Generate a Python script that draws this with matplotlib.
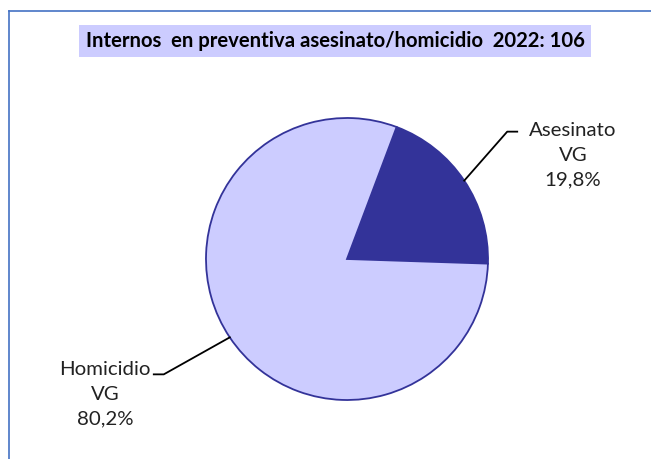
import numpy as np
import matplotlib
matplotlib.use("Agg")
import matplotlib.pyplot as plt

# chart data
labels = ["Asesinato\nVG", "Homicidio\nVG"]
shares = [19.8, 80.2]
title = "Internos  en preventiva asesinato/homicidio  2022: 106"
colors = ["#333399", "#CCCCFF"]

W, H = 651, 459
plt.rcParams["font.family"] = ["Lato", "DejaVu Sans"]

fig = plt.figure(figsize=(W / 100, H / 100), dpi=100)
ax = fig.add_axes([0, 0, 1, 1])

# pie in pixel-like data coordinates
center = (347, H - 259)
radius = 141
wedges, _ = ax.pie(shares, colors=colors, startangle=69.4, counterclock=False,
                   center=center, radius=radius, frame=True,
                   wedgeprops=dict(edgecolor="#333399", linewidth=1.3))
ax.set_xlim(0, W)
ax.set_ylim(0, H)
ax.set_aspect("equal")
ax.axis("off")

# outer frame (only top and left visible in the crop)
ax.plot([9, W + 5], [H - 11, H - 11], color="#4472C4", lw=1.2, clip_on=False)
ax.plot([9, 9], [-5, H - 11], color="#4472C4", lw=1.2, clip_on=False)

# labels with leader lines
for i, w in enumerate(wedges):
    mid = np.deg2rad((w.theta1 + w.theta2) / 2)
    x0 = center[0] + radius * np.cos(mid)
    y0 = center[1] + radius * np.sin(mid)
    right = np.cos(mid) > 0
    if right:
        x1, y1 = x0 + 43, y0 + 49
        x2 = x1 + 10
        tx, ty = 573, y1 - 24
    else:
        x1, y1 = x0 - 66, y0 - 37
        x2 = x1 - 10
        tx, ty = 105, y1 - 20
    ax.plot([x0, x1, x2], [y0, y1, y1], color="black", lw=1.3)
    txt = f"{labels[i]}\n{shares[i]:.1f}%".replace(".", ",")
    ax.text(tx, ty, txt, ha="center", va="center", fontsize=14.7,
            linespacing=1.55, color="#222222")

ax.text(335, H - 41, title, ha="center", va="center", fontsize=14.6,
        fontweight="bold", color="black",
        bbox=dict(boxstyle="square,pad=0.3", facecolor="#CCCCFF", edgecolor="none"))

fig.savefig("out.png", dpi=100)
